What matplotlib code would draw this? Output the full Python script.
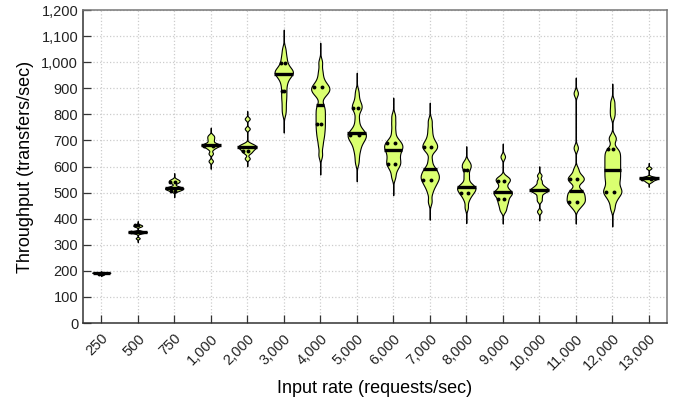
import matplotlib
matplotlib.use("Agg")
import matplotlib.pyplot as plt
import numpy as np

plt.rcParams["font.family"] = ["Liberation Sans", "DejaVu Sans"]

# ── data ────────────────────────────────────────────────────────────────
rates = ["250", "500", "750", "1,000", "2,000", "3,000", "4,000", "5,000",
         "6,000", "7,000", "8,000", "9,000", "10,000", "11,000", "12,000", "13,000"]

samples = [
    [186, 189, 191, 193, 193, 193],
    [325, 344, 347, 348, 349, 350, 352, 370, 373, 376],
    [507, 510, 513, 516, 518, 519, 522, 538, 542, 546, 550],
    [621, 650, 668, 676, 680, 682, 684, 688, 700, 710, 719],
    [631, 652, 660, 666, 671, 675, 678, 682, 688, 745, 783],
    [805, 830, 855, 875, 895, 915, 930, 942, 950, 956, 960, 963, 967, 972,
     980, 992, 1008, 1025, 1050],
    [644, 680, 705, 722, 738, 752, 766, 780, 794, 808, 822, 836, 870, 880,
     888, 894, 900, 905, 912, 922, 940, 965, 1000],
    [613, 635, 655, 668, 680, 690, 697, 703, 708, 713, 718, 722, 726, 730,
     735, 742, 752, 770, 790, 815, 823, 830, 838, 848, 868, 890],
    [560, 585, 600, 608, 615, 622, 632, 642, 650, 660, 667, 673, 678, 684,
     690, 698, 708, 735, 765, 794],
    [466, 500, 520, 530, 540, 548, 554, 560, 566, 573, 580, 590, 598, 625,
     660, 668, 675, 682, 690, 700, 720, 745, 775],
    [443, 470, 485, 493, 500, 506, 511, 515, 519, 523, 528, 534, 555, 570,
     590, 600, 608, 618],
    [431, 447, 460, 470, 480, 490, 495, 500, 505, 512, 525, 540, 547, 553,
     560, 638],
    [428, 470, 485, 500, 505, 509, 512, 516, 521, 530, 545, 566],
    [441, 455, 462, 468, 474, 482, 490, 495, 505, 511, 540, 547, 553, 560,
     568, 590, 672, 881],
    [440, 465, 480, 490, 497, 503, 508, 514, 522, 532, 542, 550, 558, 566,
     574, 582, 590, 598, 606, 614, 622, 630, 638, 646, 654, 662, 670, 705,
     712, 795, 820, 848],
    [542, 549, 552, 555, 557, 560, 594],
]

# kernel bandwidth of each density estimate (transfers/sec)
bandwidths = [1.2, 3, 5, 6, 6, 15, 15, 14, 14, 14, 12, 10, 7, 12, 14, 4]

dots = [
    [186], [349, 376], [505, 542], [680], [659], [996, 890], [903, 764],
    [826, 719], [691, 610], [676, 550], [500, 588], [545, 477], [],
    [554, 465], [669, 501], [553],
]

FILL = "#daff70"


def _kde(vals, bw, cut=5.0, npts=500):
    vals = np.asarray(vals, dtype=float)
    grid = np.linspace(vals.min() - cut * bw, vals.max() + cut * bw, npts)
    dens = np.exp(-0.5 * ((grid[:, None] - vals[None, :]) / bw) ** 2).sum(axis=1)
    return grid, dens / dens.max()


fig = plt.figure(figsize=(6.78, 4.01), dpi=100)
ax = fig.add_axes([0.1224, 0.1945, 0.8614, 0.7805])

half = 0.25
for i, vals in enumerate(samples):
    y, d = _kde(vals, bandwidths[i])
    w = d * half
    ax.fill_betweenx(y, i - w, i + w, facecolor=FILL, edgecolor="black",
                     linewidth=0.8, zorder=3)
    med = np.median(vals)
    wm = np.interp(med, y, w)
    ax.plot([i - wm - 0.02, i + wm + 0.02], [med, med], color="black",
            lw=2.4, solid_capstyle="butt", zorder=4)
    for v in dots[i]:
        wv = np.interp(v, y, w)
        ax.plot([i - 0.75 * wv, i + 0.2 * wv], [v, v], "o", color="black",
                ms=2.8, mew=0, zorder=5)

ax.set_xlim(-0.5, len(rates) - 0.5)
ax.set_ylim(0, 1200)
ax.set_xticks(range(len(rates)))
ax.set_xticklabels(rates, rotation=45, ha="right", va="top",
                   rotation_mode="anchor", fontsize=10.5)
ax.set_yticks(range(0, 1201, 100))
ax.set_yticklabels([f"{v:,}" for v in range(0, 1201, 100)], fontsize=10.5)
ax.tick_params(direction="in", length=6, width=0.9, color="#333333",
               labelcolor="#222222")
ax.tick_params(axis="x", pad=6)
ax.grid(True, color="#cccccc", linestyle=":", linewidth=0.9, zorder=0)
ax.set_axisbelow(True)
for side in ["left", "bottom"]:
    ax.spines[side].set_color("#333333")
    ax.spines[side].set_linewidth(1.1)
for side in ["top", "right"]:
    ax.spines[side].set_color("#777777")
    ax.spines[side].set_linewidth(1.1)

ax.set_xlabel("Input rate (requests/sec)", fontsize=13, labelpad=5)
ax.set_ylabel("Throughput (transfers/sec)", fontsize=13, labelpad=5)

fig.savefig("out.png", dpi=100)
